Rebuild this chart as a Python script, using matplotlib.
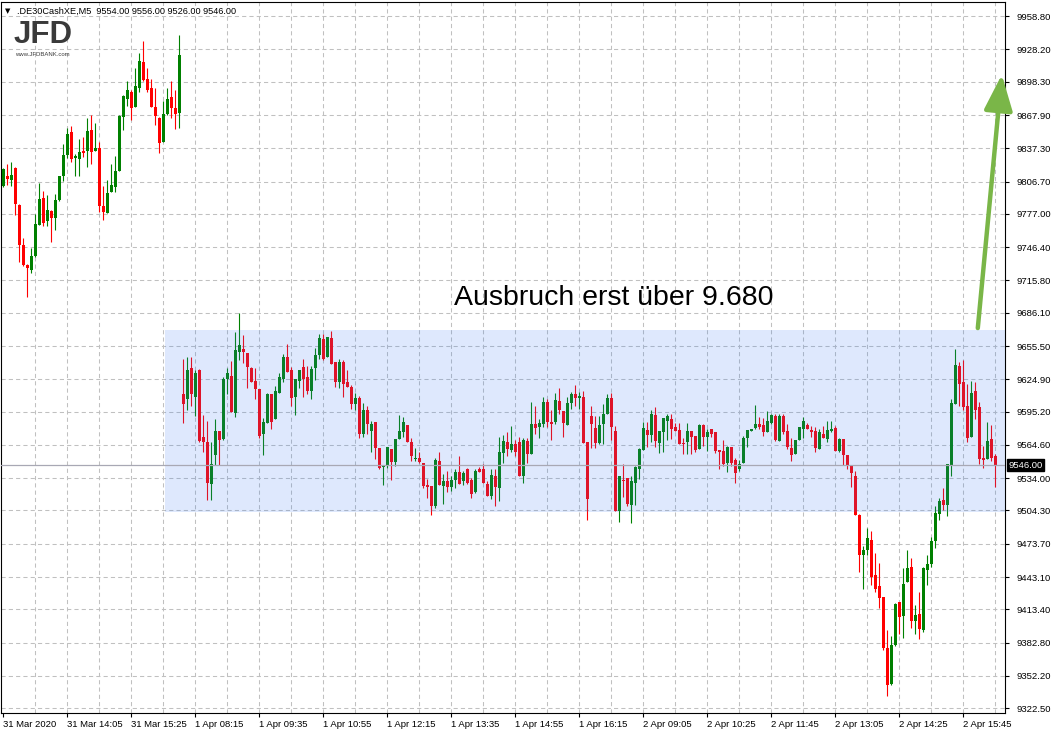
import matplotlib
matplotlib.use("Agg")
import matplotlib.pyplot as plt
from matplotlib.transforms import blended_transform_factory

# DAX 30 cash CFD, M5 bars; bar 0 = 31 Mar 2020 12:45
opens = [
    9803, 9812, 9808, 9819, 9785, 9748, 9730, 9725, 9738, 9767, 9792, 9770, 9780, 9773, 9790, 9812,
    9831, 9852, 9828, 9827, 9835, 9835, 9854, 9835, 9838, 9784, 9778, 9797, 9802, 9816, 9866, 9883,
    9889, 9875, 9893, 9917, 9901, 9893, 9875, 9865, 9843, 9869, 9884, 9874, 9870, 9611, 9607, 9635,
    9609, 9633, 9572, 9567, 9529, 9555, 9577, 9570, 9625, 9628, 9594, 9650, 9653, 9649, 9635, 9623,
    9616, 9575, 9585, 9611, 9588, 9612, 9625, 9645, 9633, 9609, 9623, 9636, 9627, 9614, 9635, 9647,
    9662, 9645, 9663, 9641, 9622, 9641, 9622, 9618, 9602, 9608, 9575, 9597, 9577, 9586, 9562, 9544,
    9545, 9561, 9549, 9570, 9576, 9583, 9567, 9552, 9553, 9548, 9528, 9527, 9508, 9550, 9527, 9531,
    9526, 9532, 9540, 9531, 9542, 9532, 9521, 9542, 9542, 9529, 9518, 9536, 9525, 9557, 9567, 9560,
    9565, 9567, 9536, 9568, 9556, 9584, 9581, 9584, 9604, 9586, 9586, 9605, 9596, 9583, 9603, 9611,
    9608, 9609, 9567, 9591, 9580, 9566, 9584, 9593, 9608, 9577, 9504, 9532, 9534, 9509, 9530, 9542,
    9560, 9578, 9574, 9592, 9566, 9576, 9587, 9588, 9581, 9578, 9566, 9567, 9577, 9573, 9561, 9583,
    9572, 9579, 9576, 9560, 9559, 9548, 9563, 9551, 9542, 9548, 9571, 9577, 9580, 9584, 9583, 9576,
    9585, 9591, 9568, 9591, 9577, 9562, 9556, 9569, 9579, 9583, 9578, 9577, 9561, 9575, 9570, 9577,
    9580, 9559, 9570, 9555, 9545, 9536, 9500, 9463, 9468, 9477, 9445, 9435, 9425, 9378, 9345, 9381,
    9420, 9407, 9439, 9452, 9403, 9409, 9394, 9450, 9455, 9476, 9501, 9514, 9509, 9545, 9602, 9637,
    9622, 9600, 9572, 9614, 9599, 9553, 9552, 9570, 9554,
]
highs = [
    9819, 9823, 9825, 9820, 9786, 9755, 9731, 9746, 9777, 9805, 9798, 9794, 9781, 9795, 9812, 9841,
    9856, 9858, 9832, 9846, 9848, 9865, 9868, 9861, 9843, 9803, 9808, 9823, 9830, 9868, 9886, 9899,
    9891, 9911, 9925, 9936, 9911, 9901, 9893, 9866, 9881, 9893, 9899, 9891, 9941, 9644, 9645, 9645,
    9633, 9634, 9592, 9587, 9567, 9588, 9577, 9627, 9635, 9642, 9668, 9686, 9666, 9649, 9636, 9635,
    9616, 9589, 9612, 9611, 9619, 9631, 9648, 9657, 9636, 9625, 9633, 9644, 9637, 9637, 9654, 9667,
    9667, 9664, 9669, 9641, 9644, 9643, 9633, 9620, 9612, 9610, 9603, 9600, 9587, 9586, 9562, 9546,
    9563, 9561, 9570, 9592, 9590, 9583, 9571, 9562, 9558, 9548, 9533, 9527, 9553, 9558, 9538, 9541,
    9536, 9542, 9554, 9541, 9543, 9534, 9542, 9544, 9547, 9531, 9542, 9542, 9572, 9574, 9576, 9582,
    9569, 9572, 9571, 9571, 9604, 9600, 9588, 9609, 9607, 9597, 9612, 9617, 9596, 9609, 9613, 9620,
    9613, 9614, 9567, 9600, 9591, 9591, 9602, 9611, 9612, 9582, 9536, 9547, 9534, 9536, 9545, 9562,
    9586, 9586, 9597, 9599, 9577, 9589, 9593, 9593, 9585, 9585, 9571, 9585, 9577, 9573, 9584, 9584,
    9579, 9579, 9576, 9560, 9569, 9564, 9563, 9553, 9551, 9573, 9578, 9579, 9601, 9590, 9589, 9596,
    9593, 9593, 9593, 9593, 9584, 9571, 9569, 9581, 9590, 9585, 9582, 9581, 9579, 9582, 9587, 9587,
    9582, 9571, 9570, 9555, 9545, 9541, 9501, 9472, 9488, 9485, 9465, 9456, 9425, 9394, 9389, 9419,
    9420, 9451, 9468, 9461, 9417, 9429, 9452, 9463, 9480, 9508, 9516, 9525, 9547, 9607, 9653, 9641,
    9643, 9621, 9623, 9622, 9604, 9564, 9586, 9583, 9556,
]
lows = [
    9802, 9804, 9803, 9776, 9733, 9729, 9701, 9723, 9737, 9767, 9766, 9766, 9751, 9762, 9789, 9807,
    9828, 9825, 9812, 9812, 9829, 9820, 9823, 9835, 9779, 9771, 9778, 9797, 9797, 9816, 9854, 9876,
    9863, 9875, 9889, 9899, 9889, 9875, 9859, 9833, 9843, 9868, 9865, 9855, 9856, 9585, 9597, 9600,
    9591, 9567, 9558, 9514, 9514, 9546, 9546, 9569, 9611, 9595, 9590, 9643, 9640, 9617, 9622, 9607,
    9571, 9555, 9585, 9579, 9588, 9612, 9622, 9632, 9600, 9592, 9617, 9609, 9611, 9607, 9624, 9644,
    9643, 9645, 9639, 9618, 9617, 9609, 9618, 9598, 9597, 9571, 9572, 9575, 9558, 9552, 9542, 9528,
    9543, 9532, 9545, 9570, 9572, 9567, 9550, 9550, 9548, 9525, 9516, 9500, 9507, 9528, 9510, 9521,
    9522, 9525, 9529, 9528, 9529, 9516, 9520, 9540, 9530, 9518, 9515, 9508, 9513, 9548, 9554, 9558,
    9554, 9536, 9530, 9548, 9556, 9575, 9571, 9581, 9581, 9569, 9584, 9593, 9572, 9583, 9598, 9600,
    9598, 9566, 9496, 9562, 9562, 9565, 9565, 9593, 9569, 9504, 9494, 9517, 9508, 9493, 9509, 9533,
    9560, 9563, 9567, 9563, 9557, 9558, 9569, 9570, 9577, 9565, 9556, 9556, 9556, 9558, 9561, 9564,
    9559, 9572, 9557, 9542, 9545, 9540, 9545, 9530, 9541, 9548, 9563, 9577, 9579, 9579, 9573, 9576,
    9584, 9568, 9568, 9575, 9561, 9550, 9556, 9569, 9571, 9579, 9572, 9558, 9561, 9571, 9567, 9576,
    9559, 9558, 9546, 9542, 9526, 9500, 9448, 9432, 9463, 9436, 9429, 9415, 9376, 9334, 9344, 9380,
    9391, 9387, 9439, 9396, 9391, 9386, 9393, 9436, 9452, 9470, 9496, 9505, 9499, 9536, 9602, 9600,
    9597, 9567, 9572, 9588, 9547, 9543, 9552, 9550, 9526,
]
closes = [
    9818, 9809, 9813, 9786, 9748, 9730, 9727, 9738, 9768, 9791, 9769, 9781, 9773, 9790, 9812, 9831,
    9850, 9827, 9830, 9834, 9833, 9853, 9834, 9838, 9784, 9779, 9796, 9804, 9816, 9867, 9885, 9891,
    9874, 9895, 9918, 9900, 9891, 9875, 9867, 9842, 9869, 9883, 9874, 9869, 9923, 9602, 9633, 9611,
    9631, 9568, 9567, 9530, 9547, 9577, 9569, 9625, 9631, 9595, 9652, 9656, 9650, 9636, 9622, 9616,
    9573, 9586, 9611, 9586, 9614, 9627, 9645, 9632, 9608, 9625, 9633, 9625, 9614, 9634, 9647, 9663,
    9644, 9664, 9639, 9622, 9641, 9621, 9618, 9602, 9608, 9575, 9597, 9584, 9584, 9562, 9543, 9545,
    9563, 9549, 9570, 9577, 9586, 9567, 9554, 9553, 9549, 9527, 9526, 9508, 9551, 9528, 9531, 9526,
    9532, 9540, 9529, 9539, 9530, 9519, 9541, 9540, 9530, 9518, 9537, 9526, 9558, 9568, 9561, 9565,
    9558, 9536, 9569, 9556, 9584, 9580, 9585, 9604, 9586, 9584, 9606, 9597, 9585, 9603, 9611, 9608,
    9610, 9566, 9515, 9584, 9566, 9583, 9593, 9608, 9581, 9504, 9536, 9531, 9510, 9531, 9544, 9561,
    9580, 9574, 9593, 9568, 9577, 9589, 9591, 9579, 9577, 9565, 9565, 9577, 9572, 9560, 9583, 9572,
    9576, 9575, 9559, 9558, 9547, 9563, 9548, 9539, 9547, 9571, 9578, 9579, 9584, 9581, 9576, 9587,
    9592, 9569, 9591, 9576, 9563, 9555, 9569, 9581, 9587, 9579, 9576, 9562, 9576, 9571, 9578, 9579,
    9559, 9570, 9555, 9545, 9539, 9500, 9463, 9468, 9479, 9443, 9432, 9424, 9378, 9344, 9381, 9418,
    9406, 9437, 9451, 9403, 9408, 9395, 9451, 9455, 9476, 9502, 9513, 9509, 9547, 9603, 9638, 9621,
    9599, 9571, 9612, 9597, 9552, 9551, 9568, 9553, 9546,
]

price_levels = [9958.80, 9928.20, 9898.30, 9867.90, 9837.30, 9806.70, 9777.00, 9746.40,
                9715.80, 9686.10, 9655.50, 9624.90, 9595.20, 9564.60, 9534.00, 9504.30,
                9473.70, 9443.10, 9413.40, 9382.80, 9352.20, 9322.50]
time_labels = ["31 Mar 2020", "31 Mar 14:05", "31 Mar 15:25", "1 Apr 08:15", "1 Apr 09:35",
               "1 Apr 10:55", "1 Apr 12:15", "1 Apr 13:35", "1 Apr 14:55", "1 Apr 16:15",
               "2 Apr 09:05", "2 Apr 10:25", "2 Apr 11:45", "2 Apr 13:05", "2 Apr 14:25",
               "2 Apr 15:45"]
label_every = 16

range_top, range_bottom = 9670, 9503
last_price = 9546.00

UP = "#008000"
DOWN = "#ff0000"
FONT = "Liberation Sans"

W, H = 1055, 733
fig = plt.figure(figsize=(W / 100, H / 100), dpi=100)
ax = fig.add_axes([1 / W, 20 / H, 1004 / W, 711 / H])

n = len(opens)
xs = list(range(n))
colors = [UP if c >= o else DOWN for o, c in zip(opens, closes)]
bottoms = [min(o, c) for o, c in zip(opens, closes)]
heights = [max(abs(c - o), 0.9) for o, c in zip(opens, closes)]

# grid
for p in price_levels:
    ax.axhline(p, color="#c0c0c0", lw=0.75, ls=(0, (4, 3)), zorder=0)
for gx in range(8, n, 8):
    ax.axvline(gx, color="#c0c0c0", lw=0.75, ls=(0, (4, 3)), zorder=0)

ax.vlines(xs, lows, highs, colors=colors, lw=0.8, zorder=2)
ax.bar(xs, heights, bottom=bottoms, width=0.72, color=colors, linewidth=0, zorder=3)

xmin, xmax = -0.57, 250.4
ax.set_xlim(xmin, xmax)
ax.set_ylim(9318.1, 9971.8)

# breakout range box
ax.axhspan(range_bottom, range_top, xmin=(40.4 - xmin) / (xmax - xmin), xmax=1,
           facecolor="#3d7cf5", alpha=0.17, lw=0, zorder=4)
ax.axhline(last_price, color="#a8a8b4", lw=0.9, zorder=5)

ax.text(152.7, 9700, "Ausbruch erst über 9.680", ha="center", va="center",
        fontsize=20.5, family=FONT, color="black", zorder=6)

ax.annotate("", xy=(249.6, 9905), xytext=(243.6, 9672),
            arrowprops=dict(arrowstyle="-|>,head_length=1.0,head_width=0.4",
                            color="#7ab648", lw=3.2, mutation_scale=22,
                            shrinkA=0, shrinkB=0),
            zorder=7)

# axes styling
for s in ax.spines.values():
    s.set_color("black")
    s.set_linewidth(0.8)
ax.yaxis.tick_right()
ax.set_yticks(price_levels)
ax.set_yticklabels([f"{p:.2f}" for p in price_levels])
ax.tick_params(axis="y", direction="out", length=3, width=0.8, pad=5,
               labelsize=6.8, labelfontfamily=FONT)
ax.set_xticks(range(0, n, label_every))
ax.set_xticklabels(time_labels, ha="left")
ax.tick_params(axis="x", direction="out", length=3, width=0.8, pad=2,
               labelsize=6.8, labelfontfamily=FONT)

trans = blended_transform_factory(ax.transAxes, ax.transData)
ax.text(1.003, last_price, f"{last_price:.2f}", transform=trans, ha="left", va="center",
        fontsize=6.8, family=FONT, color="white",
        bbox=dict(boxstyle="square,pad=0.15", fc="black", ec="black"), zorder=10)

# header line + logo
fig.text(5 / W, 1 - 11 / H, "▼", fontsize=5, va="center", family="DejaVu Sans")
fig.text(17 / W, 1 - 11 / H,
         f".DE30CashXE,M5  {opens[-1]:.2f} {highs[-1]:.2f} {lows[-1]:.2f} {closes[-1]:.2f}",
         fontsize=6.6, va="center", family=FONT,
         bbox=dict(boxstyle="square,pad=0.1", fc="white", ec="none"))
fig.text(14 / W, 1 - 35 / H, "JFD", fontsize=22.5, fontweight="bold", color="#3a3a3a",
         va="center", family=FONT)
fig.text(15 / W, 1 - 55 / H, "www.JFDBANK.com", fontsize=4.3, color="#3a3a3a",
         va="center", family=FONT)

fig.savefig("out.png", dpi=100)
